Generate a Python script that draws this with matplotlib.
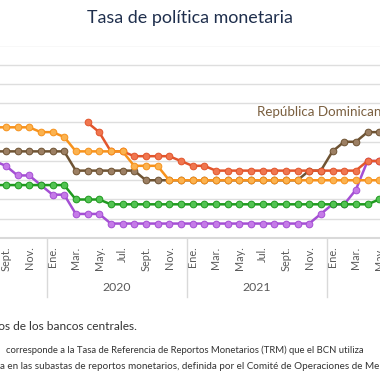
import numpy as np
import matplotlib.pyplot as plt
from matplotlib import transforms

plt.rcParams["font.family"] = ["Lato", "DejaVu Sans"]

# Meses: índice 0 = enero 2020, de agosto 2019 (-5) a mayo 2022 (28)
meses = list(range(-5, 29))

honduras = [5.75, 5.75, 5.75, 5.75, 5.5, 5.5, 5.25,
            4.5, 4.5, 4.5, 4.5, 4.5, 3.75, 3.75, 3.75] + [3.0] * 19
rep_dominicana = [4.5] * 7 + [3.5] * 6 + [3.0] * 14 + [3.5, 3.5, 4.5, 5.0, 5.0, 5.5, 5.5]
nicaragua = [np.nan] * 8 + [6.0, 5.5, 4.5, 4.5, 4.25, 4.25, 4.25, 4.25, 4.0,
                            3.75, 3.75] + [3.5] * 13 + [4.0, 4.0]
guatemala = [2.75] * 7 + [2.0] * 3 + [1.75] * 23 + [2.0]
costa_rica = [4.0, 3.75, 3.25, 3.25, 2.75, 2.25, 2.25, 1.25, 1.25, 1.25] + [0.75] * 18 \
    + [1.25, 1.75, 1.75, 2.5, 4.0, 4.0]

tick_pos = list(range(-4, 29, 2))
tick_lab = ["Sept.", "Nov."] + ["Ene.", "Mar.", "May.", "Jul.", "Sept.", "Nov."] * 2 \
    + ["Ene.", "Mar.", "May."]
anios = ["2020", "2021"]
anio_centro = [5.5, 17.5]
separadores = [-0.5, 11.5, 23.5]

series = [
    # (datos, color linea, color marcador)
    (costa_rica, "#a44fd4", "#c57ae8"),
    (rep_dominicana, "#6e5333", "#9c7f63"),
    (nicaragua, "#e2552c", "#f0764f"),
    (guatemala, "#1f9a1f", "#52c352"),
    (honduras, "#f7921c", "#fbb24f"),
]

fig = plt.figure(figsize=(3.8, 3.8), dpi=100)
ax = fig.add_axes([0, 1 - 238 / 380, 1, (238 - 45.5) / 380])

for datos, c_line, c_face in series:
    ax.plot(meses, datos, color=c_line, linewidth=1.8, marker="o",
            markersize=4.8, markerfacecolor=c_face, markeredgecolor=c_line,
            markeredgewidth=0.7, clip_on=True)

ax.set_xlim(-4.5, (380 - 52.5) / 11.667)
ax.set_ylim(0, 10)
ax.set_yticks(range(0, 11))
ax.yaxis.grid(True, color="#dedede", linewidth=1)
ax.set_axisbelow(True)
ax.tick_params(axis="y", left=False, labelleft=False)
for side in ["left", "right", "top"]:
    ax.spines[side].set_visible(False)
ax.spines["bottom"].set_color("#d9d9d9")
ax.spines["bottom"].set_linewidth(1.5)

ax.set_xticks(tick_pos)
ax.set_xticklabels(tick_lab, rotation=90, va="top", ha="center",
                   fontsize=7.8, color="#5a5a5a")
ax.tick_params(axis="x", length=0, pad=6)

trans = transforms.blended_transform_factory(ax.transData, ax.transAxes)
for s in separadores:
    ax.plot([s, s], [0, -0.305], transform=trans, color="#d9d9d9",
            linewidth=1, clip_on=False)
for a, xc in zip(anios, anio_centro):
    ax.text(xc, -0.255, a, transform=trans, ha="center", va="center",
            fontsize=8.8, color="#5a5a5a")

ax.text(17.5, 6.57, "República Dominicana", ha="left", va="center",
        fontsize=9.6, color="#7a5f3f")

fig.text(0.5, 1 - 18 / 380, "Tasa de política monetaria", ha="center",
         va="center", fontsize=12.9, color="#1f2f4d")

fig.text(137 / 380, 1 - 327 / 380, "Fuente: elaboración propia con datos de los bancos centrales.",
         ha="right", va="center", fontsize=8.6, color="#333333")
fig.text(6 / 380, 1 - 350 / 380,
         "corresponde a la Tasa de Referencia de Reportos Monetarios (TRM) que el BCN utiliza",
         ha="left", va="center", fontsize=6.8, color="#333333")
fig.text(0, 1 - 366.5 / 380,
         "a en las subastas de reportos monetarios, definida por el Comité de Operaciones de Mercado Abierto.",
         ha="left", va="center", fontsize=7.1, color="#333333")

fig.savefig("out.png", dpi=100)
